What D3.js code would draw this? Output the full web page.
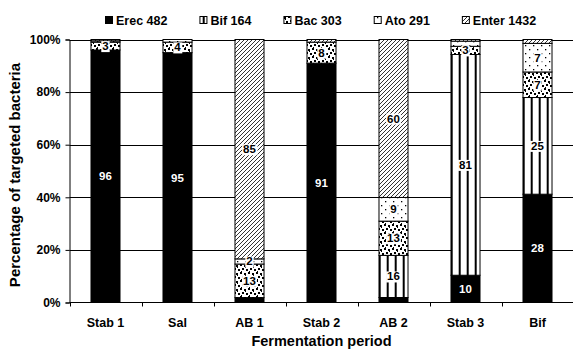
<!DOCTYPE html>
<html>
<head>
<meta charset="utf-8">
<script src="https://cdn.jsdelivr.net/npm/d3@7"></script>
<style>
  body { margin: 0; background: #fff; }
  svg { display: block; }
  text { font-family: "Liberation Sans", Arial, sans-serif; font-weight: bold; }
</style>
</head>
<body>
<div id="chart"></div>
<script>
// data (raw values, the chart normalises each bar to 100%)
const periods = ["Stab 1", "Sal", "AB 1", "Stab 2", "AB 2", "Stab 3", "Bif"];
const seriesNames = ["Erec 482", "Bif 164", "Bac 303", "Ato 291", "Enter 1432"];
const erec  = [96, 95, 1.9, 91, 1.9, 10, 28];
const bif   = [0, 0, 0, 0, 16, 81, 25];
const bac   = [3, 4, 13, 8, 13, 3, 6.6];
const ato   = [0.5, 1, 2, 0, 9, 1.9, 7.4];
const enter = [0.5, 0, 85, 1, 60, 0.6, 1];
const yTicks = [0, 0.2, 0.4, 0.6, 0.8, 1];

const seriesValues = [erec, bif, bac, ato, enter];
const keys = ["erec", "bif", "bac", "ato", "enter"];
const fills = ["#000", "url(#p-bif)", "url(#p-bac)", "url(#p-ato)", "url(#p-enter)"];

const width = 573, height = 349;
const plotLeft = 69.5, plotRight = 573.5, plotTop = 39.5, plotBottom = 302.5;

const rows = periods.map((p, i) => {
    const r = { period: p };
    keys.forEach((k, j) => { r[k] = seriesValues[j][i]; });
    return r;
});

const svg = d3.select("#chart").append("svg")
    .attr("width", width)
    .attr("height", height);

// fill patterns
const defs = svg.append("defs");

const pBif = defs.append("pattern").attr("id", "p-bif")
    .attr("patternUnits", "userSpaceOnUse").attr("width", 8).attr("height", 8).attr("x", 2.7);
pBif.append("rect").attr("width", 8).attr("height", 8).attr("fill", "#fff");
pBif.append("rect").attr("width", 2).attr("height", 8).attr("fill", "#000");

const pBac = defs.append("pattern").attr("id", "p-bac")
    .attr("patternUnits", "userSpaceOnUse").attr("width", 8).attr("height", 8);
pBac.append("rect").attr("width", 8).attr("height", 8).attr("fill", "#fff");
[[0, 0, 2], [4, 1, 2], [2, 4, 2], [6, 5, 2], [1, 7, 1], [5, 3, 1]].forEach(s => {
    pBac.append("rect").attr("x", s[0]).attr("y", s[1])
        .attr("width", s[2]).attr("height", s[2]).attr("fill", "#000");
});

const pAto = defs.append("pattern").attr("id", "p-ato")
    .attr("patternUnits", "userSpaceOnUse").attr("width", 8).attr("height", 8);
pAto.append("rect").attr("width", 8).attr("height", 8).attr("fill", "#fff");
pAto.append("rect").attr("x", 1).attr("y", 1).attr("width", 1.3).attr("height", 1.3).attr("fill", "#000");
pAto.append("rect").attr("x", 5).attr("y", 5).attr("width", 1.3).attr("height", 1.3).attr("fill", "#000");

const pEnter = defs.append("pattern").attr("id", "p-enter")
    .attr("patternUnits", "userSpaceOnUse").attr("width", 4).attr("height", 4);
pEnter.append("rect").attr("width", 4).attr("height", 4).attr("fill", "#fff");
pEnter.append("path").attr("d", "M-1,1 l2,-2 M0,4 l4,-4 M3,5 l2,-2")
    .attr("stroke", "#333").attr("stroke-width", 1);

// scales
const x = d3.scaleBand().domain(periods).range([plotLeft, plotRight])
    .paddingInner(0.597).paddingOuter(0.2985);
const y = d3.scaleLinear().domain([0, 1]).range([plotBottom, plotTop]);

// gridlines
svg.append("g").selectAll("line")
    .data(yTicks.slice(1))
    .enter().append("line")
    .attr("x1", plotLeft).attr("x2", plotRight)
    .attr("y1", d => Math.round(y(d)) + 0.5).attr("y2", d => Math.round(y(d)) + 0.5)
    .attr("stroke", "#000").attr("stroke-width", 1);

// stacked bars
const stack = d3.stack().keys(keys).offset(d3.stackOffsetExpand);
const layers = stack(rows);

const layerG = svg.append("g").selectAll("g")
    .data(layers)
    .enter().append("g")
    .attr("fill", (d, i) => fills[i]);

layerG.selectAll("rect")
    .data(d => d.filter(s => s[1] - s[0] > 0))
    .enter().append("rect")
    .attr("x", d => x(d.data.period))
    .attr("width", x.bandwidth())
    .attr("y", d => y(d[1]))
    .attr("height", d => y(d[0]) - y(d[1]))
    .attr("stroke", "#000").attr("stroke-width", 1);

// data labels
const fmt = d3.format(".0f");
layers.forEach((layer, i) => {
    layer.forEach(s => {
        const v = s.data[layer.key];
        if (v < 2) return;
        const cx = x(s.data.period) + x.bandwidth() / 2;
        const cy = (y(s[0]) + y(s[1])) / 2;
        const g = svg.append("g");
        const t = g.append("text")
            .attr("x", cx).attr("y", cy)
            .attr("dy", "0.35em")
            .attr("text-anchor", "middle")
            .attr("font-size", 11.5)
            .attr("fill", i === 0 ? "#fff" : "#000")
            .text(fmt(v));
        if (i !== 0) {
            const b = t.node().getBBox();
            g.insert("rect", "text")
                .attr("x", b.x - 1).attr("y", b.y + 1)
                .attr("width", b.width + 2).attr("height", b.height - 1)
                .attr("fill", "#fff");
        }
    });
});

// axes
const yAxis = svg.append("g")
    .attr("transform", "translate(" + plotLeft + ",0)")
    .call(d3.axisLeft(y).tickValues(yTicks).tickFormat(d3.format(".0%")).tickSize(4).tickPadding(5));
yAxis.select(".domain").attr("stroke", "#000");
yAxis.selectAll("text").attr("font-size", 12).attr("fill", "#000");

const xAxis = svg.append("g")
    .attr("transform", "translate(0," + plotBottom + ")");
xAxis.append("line")
    .attr("x1", plotLeft).attr("x2", plotRight)
    .attr("stroke", "#000");
xAxis.selectAll(".tick")
    .data(d3.range(periods.length + 1))
    .enter().append("line")
    .attr("x1", d => Math.round(plotLeft + d * x.step()) + 0.5)
    .attr("x2", d => Math.round(plotLeft + d * x.step()) + 0.5)
    .attr("y1", 0).attr("y2", 4)
    .attr("stroke", "#000");
xAxis.selectAll(".cat")
    .data(periods)
    .enter().append("text")
    .attr("x", d => x(d) + x.bandwidth() / 2)
    .attr("y", 20)
    .attr("dy", "0.35em")
    .attr("text-anchor", "middle")
    .attr("font-size", 12.5)
    .text(d => d);

// axis titles
svg.append("text")
    .attr("x", (plotLeft + plotRight) / 2).attr("y", 341)
    .attr("dy", "0.35em")
    .attr("text-anchor", "middle")
    .attr("font-size", 14.5)
    .text("Fermentation period");

svg.append("text")
    .attr("transform", "translate(15," + ((plotTop + plotBottom) / 2 + 4) + ") rotate(-90)")
    .attr("dy", "0.35em")
    .attr("text-anchor", "middle")
    .attr("font-size", 15)
    .text("Percentage of targeted bacteria");

// legend
const legend = svg.append("g");
let lx = 105;
seriesNames.forEach((name, i) => {
    legend.append("rect")
        .attr("x", lx + 0.5).attr("y", 16.5)
        .attr("width", 7).attr("height", 7)
        .attr("fill", fills[i]).attr("stroke", "#000");
    const t = legend.append("text")
        .attr("x", lx + 11).attr("y", 20.5)
        .attr("dy", "0.35em")
        .attr("font-size", 12.5)
        .text(name);
    lx += 11 + t.node().getComputedTextLength() + 32;
});
</script>
</body>
</html>
